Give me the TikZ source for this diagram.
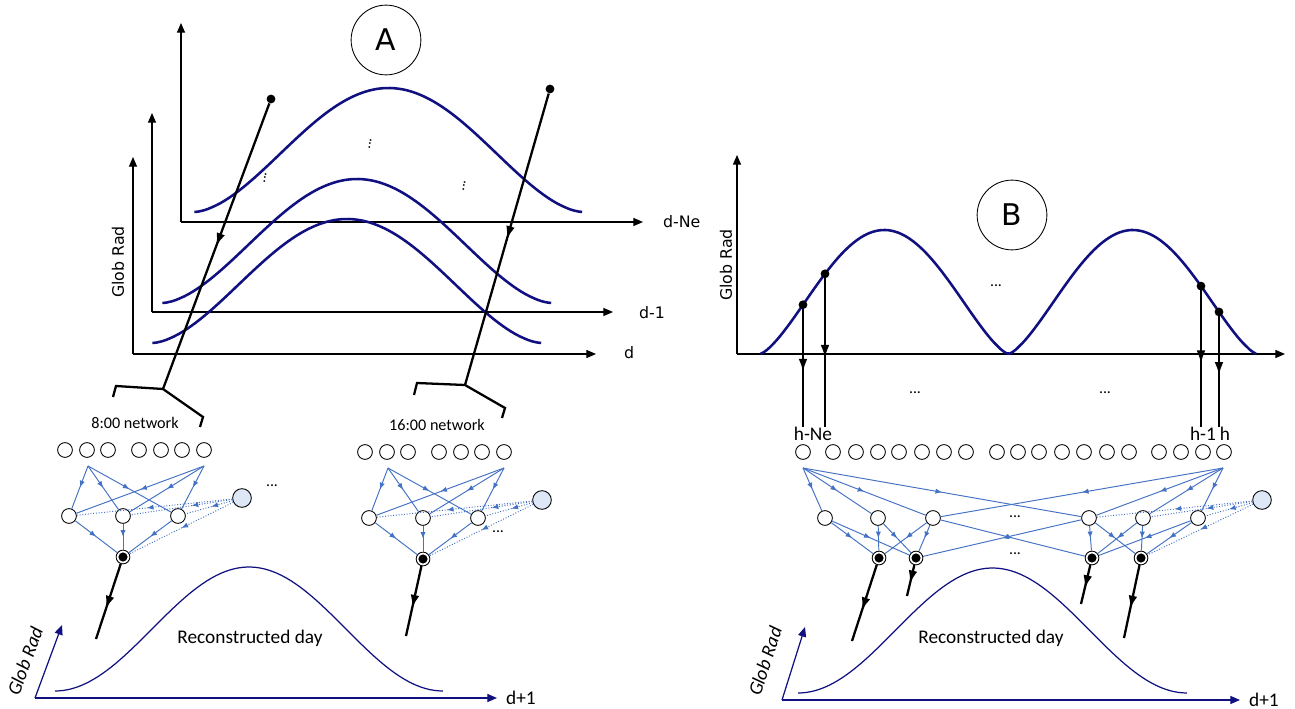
\documentclass[tikz,border=0pt]{standalone}
\usepackage{fontspec}
\setmainfont{Carlito}
\newfontfamily\dejavu{DejaVu Sans}
\usetikzlibrary{arrows.meta,decorations.markings,calc}

\definecolor{navycurve}{RGB}{16,16,128}
\definecolor{linkblue}{RGB}{68,114,196}
\definecolor{biasfill}{RGB}{222,231,245}

\tikzset{
  unit/.style={circle,draw,fill=white,line width=0.5pt,minimum size=8.4pt,inner sep=0pt},
  biasunit/.style={unit,fill=biasfill,minimum size=10.6pt},
  outunit/.style={circle,draw,fill=white,line width=0.5pt,minimum size=7.8pt,inner sep=0pt,
    path picture={\fill[black] (path picture bounding box.center) circle (2.6pt);}},
  midarrow/.style={postaction={decorate},decoration={markings,
    mark=at position #1 with {\arrow{Latex[length=3.8pt,width=3pt]}}}},
  link/.style={draw=linkblue,line width=0.55pt,midarrow=#1},
  link/.default=0.5,
  dotlink/.style={link=#1,densely dotted},
  dotlink/.default=0.5,
  heavy/.style={line width=1.3pt,black,postaction={decorate},decoration={markings,
    mark=at position #1 with {\arrow{Latex[length=7.5pt,width=5pt]}}}},
  heavy/.default=0.5,
  heavyline/.style={line width=1.3pt,black,line join=miter},
  blackdot/.style={circle,fill=black,inner sep=0pt,minimum size=5pt},
  axis/.style={line width=0.6pt,black,-{Triangle[length=5.5pt,width=4.6pt]}},
  navyaxis/.style={line width=0.7pt,navycurve,-{Triangle[length=5.5pt,width=4.6pt]}},
  topcurve/.style={line width=1.45pt,navycurve},
  daycurve/.style={line width=0.7pt,navycurve},
  axlabel/.style={font=\dejavu\fontsize{9}{11}\selectfont,inner sep=1pt},
  netlabel/.style={font=\fontsize{9.2}{11}\selectfont,inner sep=1pt},
  hlabel/.style={font=\fontsize{11}{13}\selectfont,inner sep=1pt},
  daylabel/.style={font=\fontsize{11}{13}\selectfont,inner sep=1pt},
  italabel/.style={font=\itshape\fontsize{11}{13}\selectfont,inner sep=0pt},
  ellip/.style={font=\fontsize{9}{11}\selectfont,inner sep=0pt},
  vdots/.style={font=\fontsize{8.5}{9}\selectfont,inner sep=0pt,rotate=80},
  panel/.style={circle,draw,line width=0.5pt,minimum size=39.7pt,inner sep=0pt,
    font=\dejavu\fontsize{17}{20}\selectfont}
}

\begin{document}
\begin{tikzpicture}[x=0.02cm,y=-0.02cm]
\useasboundingbox (0,0) rectangle (1295,709);

% ---------------- Panel A: stacked daily profiles ----------------
\coordinate (aBack) at (181,222);
\coordinate (aMid) at (152,312);
\coordinate (aFront) at (133,354);
\draw[axis] (aBack) -- (181,23);
\draw[axis] (aBack) -- (643,222);
\draw[axis] (aMid) -- (152,113);
\draw[axis] (aMid) -- (613,312);
\draw[axis] (aFront) -- (133,157);
\draw[axis] (aFront) -- (596,354);

\node[axlabel,anchor=west] (lbNe) at (661,222) {d-Ne};
\node[axlabel,anchor=west] (lbOne) at (637,313) {d-1};
\node[axlabel,anchor=west] (lbD) at (622,353) {d};
\node[axlabel,rotate=90] (grA) at (118,262) {Glob Rad};

\foreach \xa/\xb/\yb in {194/583/212,162/552/303,152/542/343}
  \draw[topcurve] plot[domain=0.001:0.999,samples=90,variable=\t]
    ({\xa+(\xb-\xa)*\t},{\yb-124*pow(abs(sin(180*\t)),1.7)});

\node[vdots] (va1) at (265,178) {...};
\node[vdots] (va2) at (370,144) {...};
\node[vdots] (va3) at (464,186) {...};

\node[panel] (circA) at (386,40) {A};

% sampling lines feeding the two networks
\node[blackdot] (sA1) at (271,99) {};
\node[blackdot] (sA2) at (550,89) {};
\coordinate (jL) at (163,389);
\coordinate (jR) at (465,385);
\draw[heavy] (sA1) -- (jL);
\draw[heavy] (sA2) -- (jR);
\draw[heavyline] (113,397) -- (116,386) -- (jL) -- (203,417) -- (200,427);
\draw[heavyline] (414,395) -- (417,383) -- (jR) -- (505,408) -- (502,418);

\node[netlabel] (net8) at (135,423) {8:00 network};
\node[netlabel] (net16) at (437,425) {16:00 network};

% the two small networks
\foreach \n/\dx/\dy in {L/0/0,R/300/2} {
  \foreach \x [count=\i] in {65,87,108,139,161,182,204}
    \node[unit] (\n-in\i) at (\x+\dx,450+\dy) {};
  \node[unit] (\n-h1) at (69+\dx,516+\dy) {};
  \node[unit] (\n-h2) at (123+\dx,516+\dy) {};
  \node[unit] (\n-h3) at (178+\dx,516+\dy) {};
  \node[biasunit] (\n-b) at (242+\dx,498+\dy) {};
  \node[outunit] (\n-o) at (123+\dx,557+\dy) {};
  \coordinate (\n-ja) at (88+\dx,466+\dy);
  \coordinate (\n-jb) at (204+\dx,466+\dy);
  \draw[link] (\n-ja) -- (\n-h1);
  \draw[link] (\n-ja) -- (\n-h2);
  \draw[link] (\n-ja) -- (\n-h3);
  \draw[link] (\n-jb) -- (\n-h1);
  \draw[link] (\n-jb) -- (\n-h2);
  \draw[link] (\n-jb) -- (\n-h3);
  \draw[dotlink=0.55] (\n-b) -- (\n-h1);
  \draw[dotlink=0.4] (\n-b) -- (\n-h2);
  \draw[dotlink=0.45] (\n-b) -- (\n-h3);
  \draw[link] (\n-h1) -- (\n-o);
  \draw[link] (\n-h2) -- (\n-o);
  \draw[link] (\n-h3) -- (\n-o);
  \draw[dotlink] (\n-b) -- (\n-o);
}
\node[ellip] (dotsL) at (272,486) {...};
\node[ellip] (dotsR) at (498,532) {...};

% reconstructed day (A)
\coordinate (rA) at (35,698);
\draw[navyaxis] (rA) -- (62,625);
\draw[navyaxis] (rA) -- (497,698);
\node[hlabel,anchor=west] (dpA) at (504,698) {d+1};
\node[italabel,rotate=70] (grA2) at (25,661) {Glob Rad};
\draw[daycurve] plot[domain=0:1,samples=90,variable=\t]
  ({55+388*\t},{691-124*pow(sin(180*\t),2)});
\node[daylabel] (dayA) at (250,638) {Reconstructed day};
\coordinate (eL) at (96,639);
\coordinate (eR) at (406,636);
\draw[heavy=0.6] (L-o) -- (eL);
\draw[heavy=0.6] (R-o) -- (eR);

% ---------------- Panel B: hourly profile ----------------
\coordinate (bO) at (737,354);
\draw[axis] (bO) -- (737,155);
\draw[axis] (bO) -- (1285,354);
\node[axlabel,rotate=90] (grB) at (726,265) {Glob Rad};
\draw[topcurve] plot[domain=0.001:0.999,samples=160,variable=\t]
  ({760+497*\t},{354-124*pow(abs(sin(360*\t)),1.4)});
\node[panel] (circB) at (1012,215) {B};
\node[ellip] (dotsB1) at (996,286) {...};
\node[ellip] (dotsB2) at (915,393) {...};
\node[ellip] (dotsB3) at (1105,393) {...};

\foreach \k/\x in {1/803,2/825,3/1201,4/1219} {
  \node[blackdot] (sB\k) at ({\x},{354-124*pow(abs(sin(0.72435*(\x-760))),1.4)}) {};
  \coordinate (eB\k) at (\x,427);
  \draw[heavy=0.55,line width=1.2pt] (sB\k.center) -- (eB\k);
}
\node[hlabel] (hNe) at (813,434) {h-Ne};
\node[hlabel] (hOne) at (1203,434) {h-1};
\node[hlabel] (hH) at (1225,434) {h};

% the large network
\foreach \x [count=\i] in {803,833,856,878,899,922,944,966,997,1018,1039,1062,1084,1107,1129,1159,1181,1203,1224}
  \node[unit] (bin\i) at (\x,452) {};
\foreach \x [count=\i] in {825,878,933,1089,1143,1198}
  \node[unit] (bh\i) at (\x,518) {};
\foreach \x [count=\i] in {879,916,1092,1141}
  \node[outunit] (bo\i) at (\x,558) {};
\node[biasunit] (bb) at (1262,500) {};
\coordinate (bja) at (803,468);
\coordinate (bjb) at (1223,468);

\draw[link] (bja) -- (bh1);
\draw[link] (bja) -- (bh2);
\draw[link] (bja) -- (bh3);
\draw[link] (bja) -- (bh4);
\draw[link] (bjb) -- (bh6);
\draw[link] (bjb) -- (bh5);
\draw[link] (bjb) -- (bh4);
\draw[link] (bjb) -- (bh3);
\draw[dotlink] (bb) -- (bh4);
\draw[dotlink=0.45] (bb) -- (bh5);
\draw[dotlink] (bb) -- (bh6);
\draw[dotlink] (bb) -- (bo4);
\draw[link] (bh1) -- (bo1);
\draw[link] (bh1) -- (bo2);
\draw[link] (bh2) -- (bo1);
\draw[link] (bh2) -- (bo2);
\draw[link] (bh3) -- (bo1);
\draw[link] (bh3) -- (bo2);
\draw[link] (bh3) -- (bo3);
\draw[link] (bh4) -- (bo2);
\draw[link] (bh4) -- (bo3);
\draw[link] (bh4) -- (bo4);
\draw[link] (bh5) -- (bo3);
\draw[link] (bh5) -- (bo4);
\draw[link] (bh6) -- (bo3);
\draw[link] (bh6) -- (bo4);
\node[ellip] (dotsH) at (1015,517) {...};
\node[ellip] (dotsO) at (1015,554) {...};

% reconstructed day (B)
\coordinate (rB) at (782,700);
\draw[navyaxis] (rB) -- (805,627);
\draw[navyaxis] (rB) -- (1240,700);
\node[hlabel,anchor=west] (dpB) at (1247,700) {d+1};
\node[italabel,rotate=72] (grB2) at (765,661) {Glob Rad};
\draw[daycurve] plot[domain=0:1,samples=90,variable=\t]
  ({798+389*\t},{693-125*pow(sin(180*\t),2)});
\node[daylabel] (dayB) at (991,638) {Reconstructed day};
\coordinate (eb1) at (852,641);
\coordinate (eb2) at (907,596);
\coordinate (eb3) at (1081,604);
\coordinate (eb4) at (1124,638);
\foreach \k in {1,2,3,4}
  \draw[heavy=0.6] (bo\k) -- (eb\k);
\end{tikzpicture}
\end{document}
